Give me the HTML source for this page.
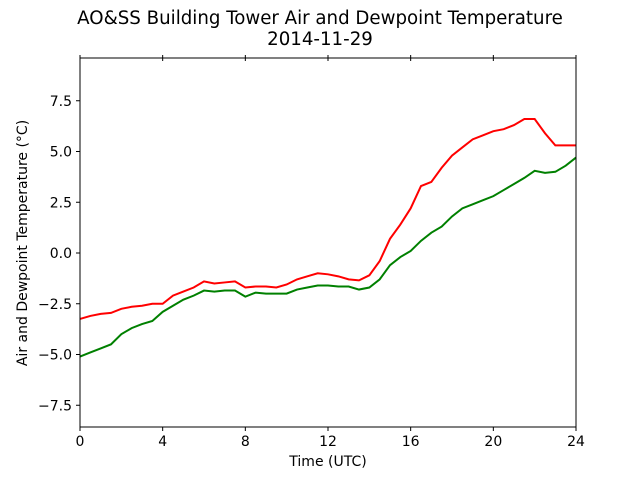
<!DOCTYPE html>
<html><head><meta charset="utf-8"><style>
body{margin:0;background:#fff;}
svg{display:block;font-family:"DejaVu Sans","Liberation Sans",sans-serif;}
</style></head><body>
<svg id="chart" width="640" height="480" viewBox="0 0 640 480">
<rect width="640" height="480" fill="#fff"/>
<text x="320" y="24" text-anchor="middle" font-size="18.2">AO&amp;SS Building Tower Air and Dewpoint Temperature</text>
<text x="320" y="45" text-anchor="middle" font-size="18.2">2014-11-29</text>
<g id="ticks"></g>
<polyline id="air" fill="none" stroke="#ff0000" stroke-width="2"/>
<polyline id="dew" fill="none" stroke="#008000" stroke-width="2"/>
<rect x="80" y="58" width="496" height="369" fill="none" stroke="#000" stroke-width="1"/>
<text x="328" y="466" text-anchor="middle" font-size="14">Time (UTC)</text>
<text transform="translate(27,243) rotate(-90)" text-anchor="middle" font-size="14">Air and Dewpoint Temperature (°C)</text>
</svg>
<script>
const hours=[0,0.5,1,1.5,2,2.5,3,3.5,4,4.5,5,5.5,6,6.5,7,7.5,8,8.5,9,9.5,10,10.5,11,11.5,12,12.5,13,13.5,14,14.5,15,15.5,16,16.5,17,17.5,18,18.5,19,19.5,20,20.5,21,21.5,22,22.5,23,23.5,24];
const airTemp=[-3.25,-3.1,-3.0,-2.95,-2.75,-2.65,-2.6,-2.5,-2.5,-2.1,-1.9,-1.7,-1.4,-1.5,-1.45,-1.4,-1.7,-1.65,-1.65,-1.7,-1.55,-1.3,-1.15,-1.0,-1.05,-1.15,-1.3,-1.35,-1.1,-0.4,0.7,1.4,2.2,3.3,3.5,4.2,4.8,5.2,5.6,5.8,6.0,6.1,6.3,6.6,6.6,5.9,5.3,5.3,5.3];
const dewTemp=[-5.1,-4.9,-4.7,-4.5,-4.0,-3.7,-3.5,-3.35,-2.9,-2.6,-2.3,-2.1,-1.85,-1.9,-1.85,-1.85,-2.15,-1.95,-2.0,-2.0,-2.0,-1.8,-1.7,-1.6,-1.6,-1.65,-1.65,-1.8,-1.7,-1.3,-0.6,-0.2,0.1,0.6,1.0,1.3,1.8,2.2,2.4,2.6,2.8,3.1,3.4,3.7,4.05,3.95,4.0,4.3,4.7];
const xTicks=[0,4,8,12,16,20,24];
const yTicks=[-7.5,-5.0,-2.5,0.0,2.5,5.0,7.5];
const X=h=>80+h*496/24;
const Y=v=>253-v*20.3;
document.getElementById('air').setAttribute('points',hours.map((h,i)=>X(h)+','+Y(airTemp[i])).join(' '));
document.getElementById('dew').setAttribute('points',hours.map((h,i)=>X(h)+','+Y(dewTemp[i])).join(' '));
const g=document.getElementById('ticks');
const NS='http://www.w3.org/2000/svg';
xTicks.forEach(t=>{
 const l=document.createElementNS(NS,'line');
 
 
 l.setAttribute('x1',X(t));l.setAttribute('x2',X(t));l.setAttribute('y1',427);l.setAttribute('y2',431);l.setAttribute('stroke','#000');
 g.appendChild(l);
 const l2=document.createElementNS(NS,'line');
 
 
 l2.setAttribute('x1',X(t));l2.setAttribute('x2',X(t));l2.setAttribute('y1',55);l2.setAttribute('y2',61);l2.setAttribute('stroke','#000');
 g.appendChild(l2);
 const tx=document.createElementNS(NS,'text');
 
 
 tx.setAttribute('x',X(t));tx.setAttribute('y',446);tx.setAttribute('text-anchor','middle');tx.setAttribute('font-size','14');
 tx.textContent=t;g.appendChild(tx);
});
yTicks.forEach(t=>{
 const l=document.createElementNS(NS,'line');
 
 
 l.setAttribute('x1',76);l.setAttribute('x2',80);l.setAttribute('y1',Y(t));l.setAttribute('y2',Y(t));l.setAttribute('stroke','#000');
 g.appendChild(l);
 const tx=document.createElementNS(NS,'text');
 
 
 tx.setAttribute('x',72);tx.setAttribute('y',Y(t)+5);tx.setAttribute('text-anchor','end');tx.setAttribute('font-size','14');
 tx.textContent=(t<0?'\u2212':'')+Math.abs(t).toFixed(1);g.appendChild(tx);
});
</script>
</body></html>
